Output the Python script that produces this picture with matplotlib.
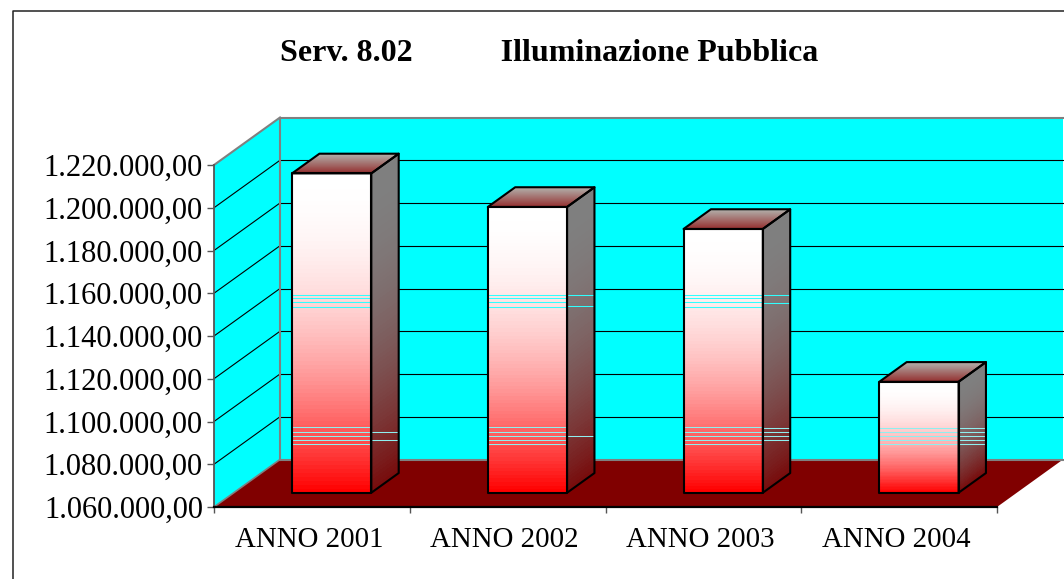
import numpy as np
import matplotlib
matplotlib.use("Agg")
import matplotlib.pyplot as plt
from matplotlib.patches import Polygon
from matplotlib.lines import Line2D
from matplotlib.transforms import Affine2D, IdentityTransform, blended_transform_factory

# ---- data ----
categories = ["ANNO 2001", "ANNO 2002", "ANNO 2003", "ANNO 2004"]
values = [1209400, 1193700, 1183400, 1111900]
y_ticks = [1060000, 1080000, 1100000, 1120000, 1140000, 1160000, 1180000, 1200000, 1220000]
y_tick_labels = ["1.060.000,00", "1.080.000,00", "1.100.000,00", "1.120.000,00", "1.140.000,00",
                 "1.160.000,00", "1.180.000,00", "1.200.000,00", "1.220.000,00"]
title = "Serv. 8.02           Illuminazione Pubblica"

# ---- layout ----
W, H = 1064, 579
DX, DY = 66.0, 47.5      # wall depth in pixels
BAR_W = 0.405
D0, D1 = 0.30, 0.715     # bar depth range
FONT = "Liberation Serif"

# rendering artefacts of the source picture (pixel rows of thin pale lines)
front_rows = [[294.5, 298, 302, 306.5, 427, 431.5, 435.5, 439.5, 443.5],
              [294.5, 298, 302, 306.5, 427, 431.5, 435.5, 439.5, 443.5],
              [294.5, 298, 302, 306.5, 427, 431.5, 435.5, 439.5, 443.5],
              [427.5, 431.5, 435.5, 439.5, 443.5]]
side_rows = [[431.5, 439.5], [295, 306, 435.5], [295, 303, 427.5, 431.5, 435.5, 439.5],
             [427.5, 431.5, 435.5, 439.5, 443.5]]

fig = plt.figure(figsize=(W / 100, H / 100), dpi=100, facecolor="white")
ax = fig.add_axes([214 / W, (H - 507) / H, 783 / W, 342 / H])
ax.set_xlim(0, 4)
ax.set_ylim(y_ticks[0], y_ticks[-1])
ax.set_autoscale_on(False)
ax.patch.set_visible(False)
for s in ("top", "right"):
    ax.spines[s].set_visible(False)
ax.spines["left"].set_color("#555555")
ax.spines["left"].set_linewidth(1.3)
ax.spines["bottom"].set_color("black")
ax.spines["bottom"].set_linewidth(1.6)
ax.spines["left"].set_zorder(3)
ax.spines["bottom"].set_zorder(3)

ax.set_yticks(y_ticks)
ax.set_yticklabels(y_tick_labels, fontfamily=FONT, fontsize=22)
ax.set_xticks(range(5))
ax.set_xticklabels([""] * 5)
ax.tick_params(axis="y", length=5, width=1, color="#555555", pad=3)
ax.tick_params(axis="x", length=4, width=1, color="#555555")
for i, c in enumerate(categories):
    ax.annotate(c, (i + 0.5, 0), xycoords=ax.get_xaxis_transform(), xytext=(-2.2, -14.7),
                textcoords="offset points", ha="center", va="top",
                fontfamily=FONT, fontsize=20.8)

fig.canvas.draw()
x0, y0 = ax.transData.transform((0, y_ticks[0]))
sx = (ax.transData.transform((1, y_ticks[0]))[0] - x0)
sy = (ax.transData.transform((0, y_ticks[1]))[1] - y0) / (y_ticks[1] - y_ticks[0])


def front(d):
    return ax.transData + Affine2D().translate(DX * d, DY * d)


def side(x):
    # (depth, value) -> display
    return Affine2D.from_values(DX, DY, 0, sy, x0 + sx * x, y0 - sy * y_ticks[0])


def top(v):
    # (x, depth) -> display
    return Affine2D.from_values(sx, 0, DX, DY, x0, y0 + sy * (v - y_ticks[0]))


GRAY = "#808080"
# back wall
ymin, ymax = y_ticks[0], y_ticks[-1]
ax.add_patch(Polygon([(0, ymin), (4, ymin), (4, ymax), (0, ymax)], closed=True, fc="#00FFFF",
                     ec="none", transform=front(1), clip_on=False, zorder=1))
# side wall
ax.add_patch(Polygon([(0, ymin), (1, ymin), (1, ymax), (0, ymax)], closed=True, fc="#00FFFF",
                     ec="none", transform=side(0), clip_on=False, zorder=1))
# floor
ax.add_patch(Polygon([(0, 0), (4, 0), (4, 1), (0, 1)], closed=True, fc="#800000",
                     ec="none", transform=top(ymin), clip_on=False, zorder=1.2))
# grid
for v in y_ticks[1:-1]:
    ax.add_line(Line2D([0, 4], [v, v], color="black", lw=0.8, transform=front(1), clip_on=False, zorder=1.5))
    ax.add_line(Line2D([0, 1], [v, v], color="black", lw=0.8, transform=side(0), clip_on=False, zorder=1.5))
# wall edges
ax.add_line(Line2D([0, 0, 4], [ymin, ymax, ymax], color=GRAY, lw=1.5, transform=front(1), clip_on=False, zorder=1.6))
ax.add_line(Line2D([0, 1], [ymax, ymax], color=GRAY, lw=1.5, transform=side(0), clip_on=False, zorder=1.6))
ax.add_line(Line2D([0, 1], [ymin, ymin], color=GRAY, lw=1.2, transform=side(0), clip_on=False, zorder=1.6))
ax.add_line(Line2D([0, 4], [ymin, ymin], color=GRAY, lw=1.5, transform=front(1), clip_on=False, zorder=1.6))

# bars
n = 80
f = np.linspace(0, 1, n)          # 0 at top, 1 at the bottom of the face
k = f ** 2
front_rgb = np.stack([np.ones(n), 1 - k, 1 - k], axis=1)[:, None, :]
side_rgb = np.stack([0.5 - 0.03 * k, 0.05 + 0.45 * (1 - k), 0.05 + 0.45 * (1 - k)], axis=1)[:, None, :]
t = np.linspace(0, 1, n)          # 0 at front, 1 at back of the top face
top_rgb = np.stack([0.58 + 0.12 * t, 0.18 + 0.52 * t, 0.18 + 0.50 * t], axis=1)[:, None, :]
row_tf = lambda tr: blended_transform_factory(tr, IdentityTransform())


def row_color(r):
    return "#30FFFF" if r < 350 else "#8FEFEF"


for i, v in enumerate(values):
    xl, xr = i + 0.5 - BAR_W / 2, i + 0.5 + BAR_W / 2
    ys = np.linspace(v, ymin, n + 1)
    # front face
    X, Y = np.meshgrid([xl, xr], ys)
    ax.pcolormesh(X, Y, front_rgb, transform=front(D0), clip_on=False, zorder=2, antialiased=False)
    # side face
    X, Y = np.meshgrid([D0, D1], ys)
    ax.pcolormesh(X, Y, side_rgb, transform=side(xr), clip_on=False, zorder=2, antialiased=False)
    # top face
    X, Y = np.meshgrid([xl, xr], np.linspace(D0, D1, n + 1))
    ax.pcolormesh(X, Y, top_rgb, transform=top(v), clip_on=False, zorder=2, antialiased=False)
    # artefact lines
    for r in front_rows[i]:
        ax.add_line(Line2D([xl, xr], [H - r, H - r], color=row_color(r), lw=0.75,
                           transform=row_tf(front(D0)), clip_on=False, zorder=2.2))
    xb = xr + (D1 - D0) * DX / sx
    for r in side_rows[i]:
        ax.add_line(Line2D([xr, xb], [H - r, H - r], color=row_color(r), lw=0.75,
                           transform=row_tf(front(D0)), clip_on=False, zorder=2.2))
    # outlines
    kw = dict(fill=False, ec="black", lw=1.5, closed=True, clip_on=False, zorder=2.5, joinstyle="round")
    ax.add_patch(Polygon([(xl, ymin), (xr, ymin), (xr, v), (xl, v)], transform=front(D0), **kw))
    ax.add_patch(Polygon([(D0, ymin), (D1, ymin), (D1, v), (D0, v)], transform=side(xr), **kw))
    ax.add_patch(Polygon([(xl, D0), (xr, D0), (xr, D1), (xl, D1)], transform=top(v), **kw))

# chart frame
fig.add_artist(Line2D([12.5 / W, 12.5 / W, 1], [0, 1 - 10.5 / H, 1 - 10.5 / H], color="#222222", lw=1.1))

fig.text(549.5 / W, 1 - 53.5 / H, title, fontfamily=FONT, fontweight="bold", fontsize=23,
         ha="center", va="center")

fig.savefig("out.png", dpi=100)
